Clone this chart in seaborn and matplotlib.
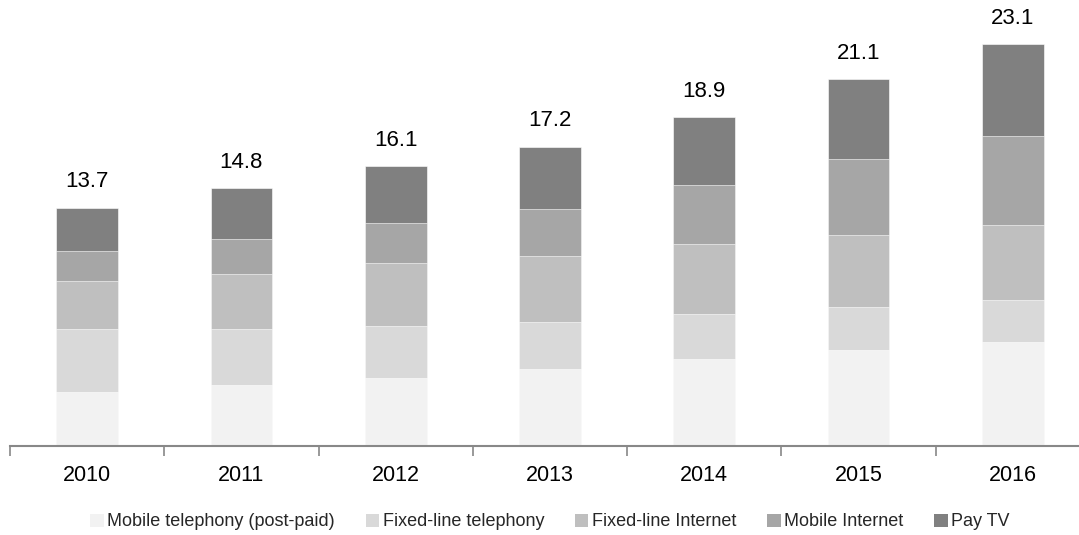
import matplotlib
matplotlib.use("Agg")
import matplotlib.pyplot as plt
from matplotlib.patches import Patch
import numpy as np
import pandas as pd
import seaborn as sns

years = ["2010", "2011", "2012", "2013", "2014", "2015", "2016"]
mobile_telephony = [3.1, 3.5, 3.9, 4.4, 5.0, 5.5, 6.0]
fixed_telephony = [3.6, 3.2, 3.0, 2.7, 2.6, 2.5, 2.4]
fixed_internet = [2.8, 3.2, 3.6, 3.8, 4.0, 4.1, 4.3]
mobile_internet = [1.7, 2.0, 2.3, 2.7, 3.4, 4.4, 5.1]
pay_tv = [2.5, 2.9, 3.3, 3.6, 3.9, 4.6, 5.3]
totals = [13.7, 14.8, 16.1, 17.2, 18.9, 21.1, 23.1]

series_names = ["Mobile telephony (post-paid)", "Fixed-line telephony",
                "Fixed-line Internet", "Mobile Internet", "Pay TV"]
series_values = [mobile_telephony, fixed_telephony, fixed_internet,
                 mobile_internet, pay_tv]
colors = ["#f2f2f2", "#d9d9d9", "#bfbfbf", "#a6a6a6", "#808080"]

sns.set_theme(style="white")
plt.rcParams["font.family"] = ["Liberation Sans", "DejaVu Sans"]

df = pd.DataFrame({name: vals for name, vals in zip(series_names, series_values)})
df["year"] = years
cumulative = df[series_names].cumsum(axis=1)

fig = plt.figure(figsize=(10.79, 5.35), dpi=100)
ax = fig.add_axes([10 / 1079, 89 / 535, 1080 / 1079, 446 / 535])

# Stacked bars: draw cumulative heights from the top segment down
for name, color in reversed(list(zip(series_names, colors))):
    sns.barplot(x=df["year"], y=cumulative[name], color=color, width=0.4,
                edgecolor="white", linewidth=0.4, ax=ax, saturation=1)

for i, total in enumerate(totals):
    ax.annotate(f"{total:.1f}", xy=(i, total), xytext=(0, 11),
                textcoords="offset points", ha="center", va="bottom",
                fontsize=16, color="#000000")

ax.set_ylim(0, 25.63)
ax.set_xlim(-0.5, 6.5)
ax.set_xlabel("")
ax.set_ylabel("")
ax.set_yticks([])
for side in ["top", "right", "left"]:
    ax.spines[side].set_visible(False)
ax.spines["bottom"].set_color("#888888")
ax.spines["bottom"].set_linewidth(1.5)

ax.set_xticks(range(len(years)))
ax.set_xticklabels(years, fontsize=15.5)
ax.set_xticks(np.arange(-0.5, len(years), 1.0), minor=True)
ax.tick_params(axis="x", which="major", length=0, pad=14, labelcolor="#000000")
ax.tick_params(axis="x", which="minor", length=7, width=1.2, color="#888888",
               direction="out", bottom=True)

handles = [Patch(facecolor=c, edgecolor="none", label=n)
           for n, c in zip(series_names, colors)]
fig.legend(handles=handles, loc="center", bbox_to_anchor=(550 / 1079, 13 / 535),
           ncol=5, frameon=False, fontsize=13, handlelength=0.75,
           handleheight=0.75, handletextpad=0.2, columnspacing=1.7,
           borderaxespad=0)

fig.savefig("out.png", dpi=100)
